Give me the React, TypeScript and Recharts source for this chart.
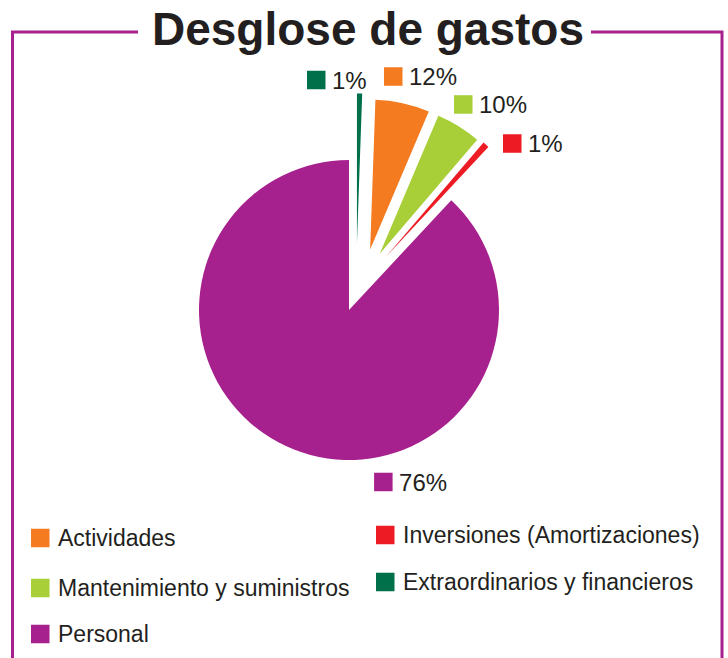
import React from "react";
import { PieChart, Pie, Cell } from "recharts";

// slice order is clockwise from 12 o'clock
const categories = [
  "Extraordinarios y financieros",
  "Actividades",
  "Mantenimiento y suministros",
  "Inversiones (Amortizaciones)",
  "Personal",
];
// share of the circle as drawn in the picture
const values = [0.56, 5.83, 4.86, 0.69, 88.06];
// percentage labels as printed in the picture
const percentLabels = ["1%", "12%", "10%", "1%", "76%"];
const colors = ["#00704a", "#f47b20", "#a8cf38", "#ed1c24", "#a7218e"];

// legend reading order (two columns)
const legendOrder = [1, 3, 2, 0, 4];

const data = categories.map((name, i) => ({ name, value: values[i] }));

// layout
const W = 728;
const H = 658;
const CX = 349;
const CY = 310;
const R = 150;
const PURPLE = "#a7218e";
const TEXT = "#231f20";
const FONT = "'Liberation Sans', Arial, Helvetica, sans-serif";

// explosion of the small slices: direction (deg clockwise from top) and distance
const explodeDir = [6.8, 19.3, 28.7, 34.8];
const explodeDist = [67, 64, 64, 65];

// label anchor (left edge of the colour square) in polar coords around the centre
const labelAngle = [-10.35, 8.52, 27.06, 42.77, 171.7];
const labelRadius = [233.8, 236.1, 230.8, 226.8, 173.8];

const rad = (d: number) => (d * Math.PI) / 180;

const renderLabel = (props: any) => {
  const { cx, cy, index } = props;
  const a = rad(labelAngle[index]);
  const x = cx + labelRadius[index] * Math.sin(a);
  const y = cy - labelRadius[index] * Math.cos(a);
  return (
    <g key={`lbl-${index}`}>
      <rect x={x} y={y - 9.25} width={18.5} height={18.5} fill={colors[index]} />
      <text x={x + 25} y={y + 8.6} fontSize={24} fontFamily={FONT} fill={TEXT}>
        {percentLabels[index]}
      </text>
    </g>
  );
};

const legendPos = [
  { x: 31, y: 538 },
  { x: 376, y: 535 },
  { x: 31, y: 588 },
  { x: 376, y: 582 },
  { x: 31, y: 634 },
];

export default function App() {
  return (
    <div style={{ position: "absolute", left: 0, top: 0, width: W, height: H, background: "#fff" }}>
      <PieChart width={W} height={H} margin={{ top: 0, right: 0, bottom: 0, left: 0 }}>
        <Pie
          data={data}
          dataKey="value"
          cx={CX}
          cy={CY}
          outerRadius={R}
          startAngle={90}
          endAngle={-270}
          stroke="none"
          label={renderLabel}
          labelLine={false}
          isAnimationActive={false}
        >
          {data.map((d, i) => (
            <Cell key={d.name} fill={i === 4 ? colors[i] : "none"} />
          ))}
        </Pie>
        {explodeDir.map((dir, j) => (
          <Pie
            key={`ex-${j}`}
            data={data}
            dataKey="value"
            cx={CX + explodeDist[j] * Math.sin(rad(dir))}
            cy={CY - explodeDist[j] * Math.cos(rad(dir))}
            outerRadius={R}
            startAngle={90}
            endAngle={-270}
            stroke="none"
            isAnimationActive={false}
          >
            {data.map((d, i) => (
              <Cell key={d.name} fill={i === j ? colors[i] : "none"} />
            ))}
          </Pie>
        ))}
      </PieChart>
      <svg
        width={W}
        height={H}
        style={{ position: "absolute", left: 0, top: 0, pointerEvents: "none" }}
      >
        <polyline points={`12.5,${H + 5} 12.5,32 138,32`} fill="none" stroke={PURPLE} strokeWidth={3} />
        <polyline points={`591,32 722,32 722,${H + 5}`} fill="none" stroke={PURPLE} strokeWidth={3} />
        <text
          x={368}
          y={45}
          textAnchor="middle"
          fontSize={46}
          fontWeight="bold"
          fontFamily={FONT}
          fill={TEXT}
        >
          Desglose de gastos
        </text>
        {legendOrder.map((idx, k) => (
          <g key={categories[idx]}>
            <rect x={legendPos[k].x} y={legendPos[k].y - 9.25} width={18.5} height={18.5} fill={colors[idx]} />
            <text
              x={legendPos[k].x + 27}
              y={legendPos[k].y + 8.3}
              fontSize={23}
              fontFamily={FONT}
              fill={TEXT}
            >
              {categories[idx]}
            </text>
          </g>
        ))}
      </svg>
    </div>
  );
}
